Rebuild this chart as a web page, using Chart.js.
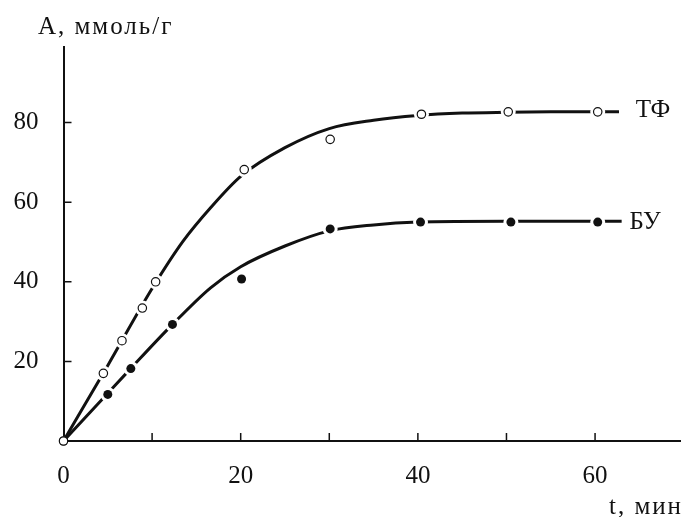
<!DOCTYPE html>
<html>
<head>
<meta charset="utf-8">
<script src="https://cdn.jsdelivr.net/npm/chart.js@4"></script>
<style>
  html, body { margin: 0; padding: 0; background: #fff; }
  #wrap { width: 681px; height: 517px; }
</style>
</head>
<body>
<div id="wrap"><canvas id="chart"></canvas></div>
<script>
// measured points
const tfTime = [0, 4.5, 6.6, 8.9, 10.4, 20.4, 30.1, 40.4, 50.2, 60.3];
const tfValues = [0, 17, 25.2, 33.4, 40, 68.2, 75.8, 82.1, 82.7, 82.7];
const buTime = [0, 5, 7.6, 12.3, 20.1, 30.1, 40.3, 50.5, 60.3];
const buValues = [0, 11.7, 18.2, 29.3, 40.7, 53.3, 55, 55, 55];

// fitted curves
const tfCurveTime = [0, 5, 10, 13.5, 16.6, 20, 25, 30, 35, 40, 45, 50, 55, 62.7];
const tfCurveValues = [0, 19, 38.3, 50.2, 58.6, 66.5, 73.7, 78.5, 80.6, 81.8, 82.4, 82.6, 82.7, 82.7];
const buCurveTime = [0, 5, 7.5, 12, 16.6, 20, 25, 30, 35, 40, 50, 63];
const buCurveValues = [0, 12, 18, 28.6, 38.5, 43.8, 49, 52.8, 54.3, 55, 55.2, 55.2];

const xTicks = [0, 10, 20, 30, 40, 50, 60];
const xLabels = [0, 20, 40, 60];
const yTicks = [0, 20, 40, 60, 80];
const yLabels = [20, 40, 60, 80];

const toXY = (xs, ys) => xs.map((x, i) => ({ x: x, y: ys[i] }));
const FONT = "'Liberation Serif', 'Times New Roman', serif";
const INK = "#111";

const innerTicks = {
  id: "innerTicks",
  afterDraw(chart) {
    const c = chart.ctx;
    const xs = chart.scales.x;
    const ys = chart.scales.y;
    const area = chart.chartArea;
    c.save();
    c.strokeStyle = INK;
    c.lineWidth = 1.5;
    c.beginPath();
    xTicks.forEach((v) => {
      if (v === 0) return;
      const px = xs.getPixelForValue(v);
      c.moveTo(px, area.bottom);
      c.lineTo(px, area.bottom - 8);
    });
    yTicks.forEach((v) => {
      if (v === 0) return;
      const py = ys.getPixelForValue(v);
      c.moveTo(area.left, py);
      c.lineTo(area.left + 8, py);
    });
    c.stroke();

    // axis titles and curve names
    c.fillStyle = INK;
    c.font = "25px " + FONT;
    c.letterSpacing = "2px";
    c.textBaseline = "alphabetic";
    c.textAlign = "left";
    c.fillText("A, ммоль/г", 38, 34);
    c.textAlign = "right";
    c.fillText("t, мин", 683, 514);
    c.letterSpacing = "0px";
    c.textAlign = "left";
    c.textBaseline = "middle";
    c.fillText("ТФ", xs.getPixelForValue(64.6), ys.getPixelForValue(83));
    c.fillText("БУ", xs.getPixelForValue(63.9), ys.getPixelForValue(54.9));
    c.restore();
  },
};

const ctx = document.getElementById("chart").getContext("2d");
new Chart(ctx, {
  type: "scatter",
  data: {
    datasets: [
      {
        label: "ТФ",
        data: toXY(tfTime, tfValues),
        pointStyle: "circle",
        pointRadius: 4.2,
        pointBackgroundColor: "#fff",
        pointBorderColor: INK,
        pointBorderWidth: 1.2,
        showLine: false,
        clip: false,
      },
      {
        label: "БУ",
        data: toXY(buTime, buValues),
        pointRadius: 4.5,
        pointBackgroundColor: INK,
        pointBorderColor: INK,
        pointBorderWidth: 0,
        showLine: false,
        clip: false,
      },
      {
        label: "gapTF",
        data: toXY(tfTime, tfValues).slice(1),
        pointRadius: 7.5,
        pointBackgroundColor: "#fff",
        pointBorderWidth: 0,
        showLine: false,
        clip: false,
      },
      {
        label: "gapBU",
        data: toXY(buTime, buValues).slice(1),
        pointRadius: 7.5,
        pointBackgroundColor: "#fff",
        pointBorderWidth: 0,
        showLine: false,
        clip: false,
      },
      {
        label: "curveTF",
        data: toXY(tfCurveTime, tfCurveValues),
        showLine: true,
        borderColor: INK,
        borderWidth: 3,
        pointRadius: 0,
        cubicInterpolationMode: "monotone",
        clip: false,
      },
      {
        label: "curveBU",
        data: toXY(buCurveTime, buCurveValues),
        showLine: true,
        borderColor: INK,
        borderWidth: 3,
        pointRadius: 0,
        cubicInterpolationMode: "monotone",
        clip: false,
      },
    ],
  },
  options: {
    responsive: true,
    maintainAspectRatio: false,
    animation: false,
    events: [],
    layout: { autoPadding: false, padding: { top: 47, right: 0, left: 0, bottom: 0 } },
    plugins: { legend: { display: false }, tooltip: { enabled: false } },
    scales: {
      x: {
        type: "linear",
        min: 0,
        max: 69.7,
        afterBuildTicks: (s) => { s.ticks = xTicks.map((v) => ({ value: v })); },
        afterFit: (s) => {
          s.height = 76;
          s.paddingRight = 0;
          s.paddingLeft = 0;
        },
        grid: { drawOnChartArea: false, drawTicks: false },
        border: { display: true, color: INK, width: 2 },
        ticks: {
          color: INK,
          padding: 20,
          maxRotation: 0,
          autoSkip: false,
          font: { family: FONT, size: 25 },
          callback: (v) => (xLabels.includes(v) ? String(v) : ""),
        },
      },
      y: {
        type: "linear",
        min: 0,
        max: 99,
        afterBuildTicks: (s) => { s.ticks = yTicks.map((v) => ({ value: v })); },
        afterFit: (s) => { s.width = 63.5; },
        grid: { drawOnChartArea: false, drawTicks: false },
        border: { display: true, color: INK, width: 2 },
        ticks: {
          color: INK,
          padding: 25,
          font: { family: FONT, size: 25 },
          callback: (v) => (yLabels.includes(v) ? String(v) : ""),
        },
      },
    },
  },
  plugins: [innerTicks],
});
</script>
</body>
</html>
